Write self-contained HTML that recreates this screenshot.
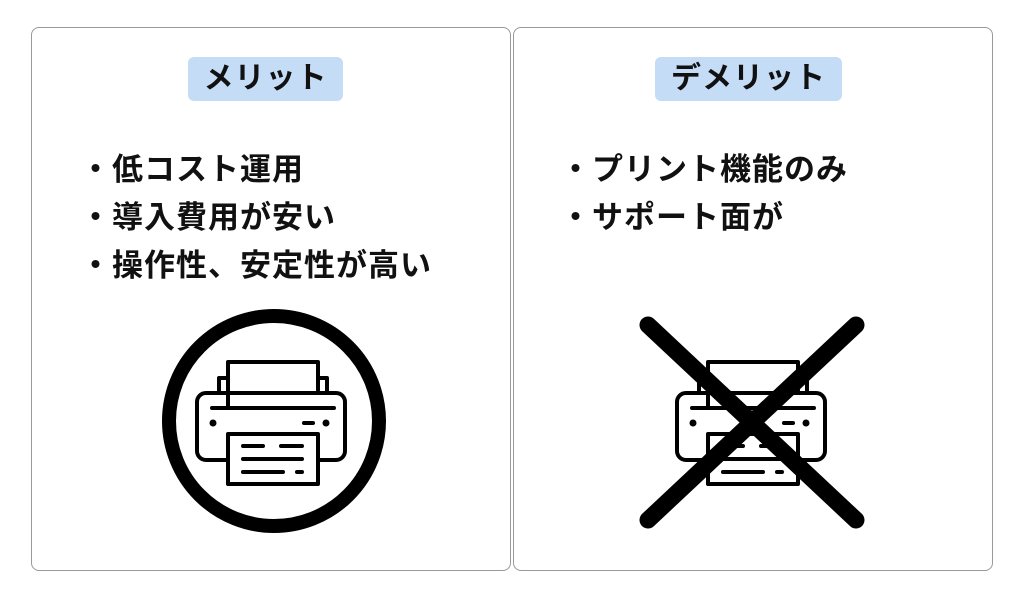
<!DOCTYPE html>
<html><head><meta charset="utf-8"><style>
body{margin:0;width:1024px;height:599px;background:#fff;position:relative;font-family:"Liberation Sans","Noto Sans CJK JP",sans-serif;overflow:hidden}
.p{position:absolute;top:27px;width:480px;height:544px;border:1.5px solid #999;border-radius:8px;box-sizing:border-box}
.t{position:absolute;top:57px;height:44px;background:#c5dcf7;border-radius:6px;font-size:30px;font-weight:bold;letter-spacing:1px;line-height:44px;text-align:center;color:#111}
.l{position:absolute;font-size:31px;font-weight:bold;letter-spacing:1px;color:#111;line-height:48px}
</style></head><body>
<div class="p" style="left:31px"></div>
<div class="p" style="left:513px"></div>
<div class="t" style="left:188px;width:155px">メリット</div>
<div class="t" style="left:655px;width:187px">デメリット</div>
<div class="l" style="left:80px;top:146px">・低コスト運用<br>・導入費用が安い<br>・操作性、安定性が高い</div>
<div class="l" style="left:560px;top:146px">・プリント機能のみ<br>・サポート面が</div>
<svg width="1024" height="599" style="position:absolute;left:0;top:0">
<defs><g id="pr" fill="none" stroke="#000" stroke-width="4" stroke-linecap="round" stroke-linejoin="round">
<path d="M219 393V378h9M327 393V378h-9"/>
<path d="M228 406V362h90v28"/>
<rect x="197" y="393" width="148" height="67" rx="9" fill="none"/>
<line x1="212" y1="408" x2="334" y2="408"/>
<circle cx="213" cy="423" r="1.5" fill="#000"/><circle cx="326" cy="423" r="1.5" fill="#000"/>
<line x1="304" y1="423" x2="313" y2="423"/>
<rect x="228" y="434" width="90" height="50" fill="#fff"/>
<line x1="243" y1="446" x2="263" y2="446"/><line x1="281" y1="446" x2="302" y2="446"/>
<line x1="243" y1="459" x2="302" y2="459"/>
<line x1="243" y1="472" x2="283" y2="472"/><line x1="297" y1="472" x2="302" y2="472"/>
</g></defs>
<circle cx="274" cy="421" r="105" fill="none" stroke="#000" stroke-width="14"/>
<use href="#pr"/>
<use href="#pr" transform="translate(480,0)"/>
<g stroke="#000" stroke-width="17" stroke-linecap="round"><line x1="648" y1="325" x2="856" y2="520"/><line x1="856" y1="325" x2="648" y2="520"/></g>
</svg>
</body></html>
